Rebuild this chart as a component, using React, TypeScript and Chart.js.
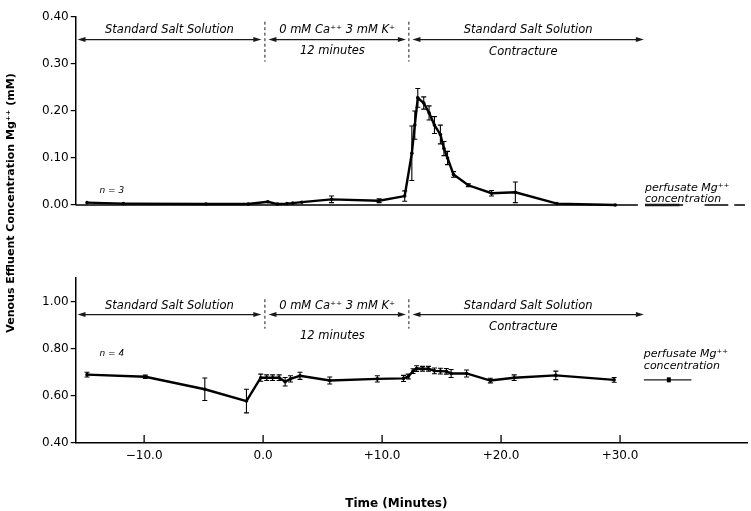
import React, { useEffect, useRef } from 'react';
import { Chart, registerables } from 'chart.js';

Chart.register(...registerables);

// ---------- data ----------
// Upper panel: Mg++ efflux, Ca-free contracture protocol (n = 3)
const topTime = [-14.8, -11.75, -4.8, -1.25, 0.4, 1.2, 2.0, 2.5, 3.25, 5.75, 9.75, 11.9, 12.5, 12.75, 13.0, 13.5, 13.95, 14.4, 14.9, 15.2, 15.5, 16.0, 17.25, 19.2, 21.2, 24.7, 29.6];
const topMg = [0.005, 0.003, 0.002, 0.002, 0.007, 0.002, 0.003, 0.004, 0.006, 0.012, 0.009, 0.019, 0.11, 0.17, 0.228, 0.217, 0.196, 0.17, 0.15, 0.12, 0.1, 0.065, 0.042, 0.025, 0.027, 0.003, 0.0];
const topErr = [0, 0, 0, 0, 0, 0, 0, 0, 0, 0.007, 0.004, 0.011, 0.058, 0.03, 0.02, 0.013, 0.015, 0.018, 0.02, 0.015, 0.014, 0.006, 0.003, 0.006, 0.022, 0, 0];

// Lower panel (n = 4)
const botTime = [-14.8, -9.9, -4.9, -1.4, -0.2, 0.3, 0.8, 1.35, 1.85, 2.3, 3.1, 5.6, 9.6, 11.8, 12.2, 12.6, 12.9, 13.4, 13.9, 14.4, 14.9, 15.4, 15.8, 17.1, 19.1, 21.1, 24.6, 29.5];
const botMg = [0.69, 0.681, 0.628, 0.578, 0.677, 0.677, 0.677, 0.677, 0.66, 0.672, 0.685, 0.665, 0.672, 0.674, 0.682, 0.705, 0.716, 0.715, 0.715, 0.706, 0.705, 0.704, 0.695, 0.695, 0.665, 0.677, 0.687, 0.668];
const botErr = [0.01, 0.007, 0.048, 0.05, 0.015, 0.012, 0.012, 0.012, 0.018, 0.013, 0.015, 0.015, 0.013, 0.013, 0.01, 0.01, 0.012, 0.01, 0.01, 0.012, 0.012, 0.012, 0.017, 0.015, 0.01, 0.012, 0.018, 0.01];

// Perfusate Mg++ concentration levels
const perfusateTop = 0.0;
const perfusateBot = 0.668;

// Axes
const xMin = -15.75;
const xMax = 40.67;
const xTickValues = [-10, 0, 10, 20, 30];
const xTickLabels = ['\u221210.0', '0.0', '+10.0', '+20.0', '+30.0'];
const topYTicks = [0, 0.1, 0.2, 0.3, 0.4];
const botYTicks = [0.4, 0.6, 0.8, 1.0];

// Protocol phases (minutes)
const phaseLabels = ['Standard Salt Solution', '0 mM Ca\u207A\u207A 3 mM K\u207A', 'Standard Salt Solution'];
const phaseSubLabels = ['', '12 minutes', 'Contracture'];
const phaseStarts = [-15.6, 0.45, 12.55];
const phaseEnds = [-0.15, 12.0, 32.0];
const phaseBoundaries = [0.15, 12.25];

// ---------- drawing helpers ----------
function drawArrow(ctx: CanvasRenderingContext2D, x1: number, x2: number, y: number) {
  const head = 8;
  ctx.lineWidth = 1.2;
  ctx.beginPath();
  ctx.moveTo(x1 + head - 1, y);
  ctx.lineTo(x2 - head + 1, y);
  ctx.stroke();
  ctx.beginPath();
  ctx.moveTo(x1, y);
  ctx.lineTo(x1 + head, y - 2.5);
  ctx.lineTo(x1 + head, y + 2.5);
  ctx.closePath();
  ctx.fill();
  ctx.beginPath();
  ctx.moveTo(x2, y);
  ctx.lineTo(x2 - head, y - 2.5);
  ctx.lineTo(x2 - head, y + 2.5);
  ctx.closePath();
  ctx.fill();
}

const annotationPlugin = {
  id: 'figureAnnotations',
  afterDatasetsDraw(chart: any) {
    const { ctx, scales, chartArea } = chart;
    const xs = scales.x;
    const yt = scales.yTop;
    const yb = scales.yBot;
    const X = (v: number) => xs.getPixelForValue(v);
    ctx.save();
    ctx.strokeStyle = '#000';
    ctx.fillStyle = '#000';

    // error bars
    const drawErr = (ts: number[], vs: number[], es: number[], sc: any) => {
      ctx.lineWidth = 1.1;
      ts.forEach((t, i) => {
        if (!es[i]) return;
        const px = X(t);
        const y1 = sc.getPixelForValue(vs[i] - es[i]);
        const y2 = sc.getPixelForValue(vs[i] + es[i]);
        ctx.beginPath();
        ctx.moveTo(px, y1);
        ctx.lineTo(px, y2);
        ctx.moveTo(px - 2.5, y1);
        ctx.lineTo(px + 2.5, y1);
        ctx.moveTo(px - 2.5, y2);
        ctx.lineTo(px + 2.5, y2);
        ctx.stroke();
      });
    };
    drawErr(topTime, topMg, topErr, yt);
    drawErr(botTime, botMg, botErr, yb);

    // inward tick marks on the time axis
    ctx.lineWidth = 1.3;
    xTickValues.forEach((v) => {
      const px = X(v);
      ctx.beginPath();
      ctx.moveTo(px, chartArea.bottom);
      ctx.lineTo(px, chartArea.bottom - 8);
      ctx.stroke();
    });

    // protocol phase annotations for each panel
    const panels = [
      { sc: yt, row1: 0.372, arrow: 0.352, row2: [0, 0.328, 0.326], dash: [0.39, 0.305] },
      { sc: yb, row1: 0.983, arrow: 0.945, row2: [0, 0.855, 0.893], dash: [1.01, 0.885] },
    ];
    panels.forEach((p) => {
      ctx.strokeStyle = '#1a1a1a';
      ctx.fillStyle = '#1a1a1a';
      const ay = p.sc.getPixelForValue(p.arrow);
      phaseStarts.forEach((s, i) => drawArrow(ctx, X(s), X(phaseEnds[i]), ay));
      ctx.setLineDash([3, 2.5]);
      ctx.lineWidth = 1;
      phaseBoundaries.forEach((b) => {
        ctx.beginPath();
        ctx.moveTo(X(b), p.sc.getPixelForValue(p.dash[0]));
        ctx.lineTo(X(b), p.sc.getPixelForValue(p.dash[1]));
        ctx.stroke();
      });
      ctx.setLineDash([]);
      ctx.fillStyle = '#000';
      ctx.font = 'italic 11.5px "DejaVu Sans"';
      ctx.textAlign = 'center';
      ctx.textBaseline = 'middle';
      phaseLabels.forEach((lab, i) => {
        const cx = (phaseStarts[i] + phaseEnds[i]) / 2;
        ctx.fillText(lab, X(cx), p.sc.getPixelForValue(p.row1));
        if (phaseSubLabels[i]) ctx.fillText(phaseSubLabels[i], X(cx - 0.4), p.sc.getPixelForValue(p.row2[i]));
      });
    });

    // n labels
    ctx.font = 'italic 9px "DejaVu Sans"';
    ctx.textAlign = 'left';
    ctx.fillText('n = 3', X(-13.75), yt.getPixelForValue(0.03));
    ctx.fillText('n = 4', X(-13.75), yb.getPixelForValue(0.777));

    // perfusate legends
    ctx.font = 'italic 11px "DejaVu Sans"';
    ctx.fillText('perfusate Mg\u207A\u207A', X(32.1), yt.getPixelForValue(0.035));
    ctx.fillText('concentration', X(32.1), yt.getPixelForValue(0.013));
    ctx.fillText('perfusate Mg\u207A\u207A', X(32.0), yb.getPixelForValue(0.775));
    ctx.fillText('concentration', X(32.0), yb.getPixelForValue(0.724));

    ctx.lineWidth = 2.6;
    ctx.beginPath();
    ctx.moveTo(X(32.1), yt.getPixelForValue(perfusateTop));
    ctx.lineTo(X(35.0), yt.getPixelForValue(perfusateTop));
    ctx.stroke();
    ctx.lineWidth = 1.3;
    const by = yb.getPixelForValue(perfusateBot);
    ctx.beginPath();
    ctx.moveTo(X(32.0), by);
    ctx.lineTo(X(36.0), by);
    ctx.stroke();
    ctx.fillRect(X(34.1) - 2, by - 2.5, 4, 5);

    // axis titles
    ctx.font = 'bold 12px "DejaVu Sans"';
    ctx.textAlign = 'center';
    ctx.textBaseline = 'middle';
    ctx.fillText('Time (Minutes)', X(11.2), chartArea.bottom + 61);
    ctx.save();
    ctx.translate(11, yt.bottom - 2);
    ctx.rotate(-Math.PI / 2);
    ctx.font = 'bold 11px "DejaVu Sans"';
    ctx.fillText('Venous Effluent Concentration Mg\u207A\u207A (mM)', 0, 0);
    ctx.restore();

    ctx.restore();
  },
};

const tickFont = { family: 'DejaVu Sans', size: 12 };

export default function App() {
  const canvasRef = useRef<HTMLCanvasElement | null>(null);

  useEffect(() => {
    document.body.style.margin = '0';
    const canvas = canvasRef.current;
    if (!canvas) return;
    const yAxisCommon = {
      type: 'linear',
      position: 'left',
      stack: 'panels',
      grid: { drawOnChartArea: false, tickLength: 5, color: '#000', lineWidth: 1.2 },
      border: { display: true, color: '#000', width: 1.5 },
      ticks: {
        color: '#000',
        font: tickFont,
        padding: 2,
        callback: (v: number) => Number(v).toFixed(2),
      },
    };
    const chart = new Chart(canvas, {
      type: 'line',
      data: {
        datasets: [
          {
            label: 'Mg++ upper',
            data: topTime.map((t, i) => ({ x: t, y: topMg[i] })),
            yAxisID: 'yTop',
            borderColor: '#000',
            backgroundColor: '#000',
            borderWidth: 2.4,
            pointRadius: 1.8,
            pointBorderWidth: 0,
            tension: 0,
            clip: 8,
          },
          {
            label: 'perfusate upper',
            data: [
              { x: xMin, y: perfusateTop },
              { x: 31.5, y: perfusateTop },
              { x: 31.8, y: null },
              { x: 32.1, y: perfusateTop },
              { x: 35.3, y: perfusateTop },
              { x: 36.2, y: null },
              { x: 37.1, y: perfusateTop },
              { x: 39.1, y: perfusateTop },
              { x: 39.3, y: null },
              { x: 39.6, y: perfusateTop },
              { x: 40.5, y: perfusateTop },
            ],
            yAxisID: 'yTop',
            borderColor: '#000',
            backgroundColor: '#000',
            borderWidth: 1.5,
            pointRadius: 0,
            spanGaps: false,
            clip: false,
          },
          {
            label: 'Mg++ lower',
            data: botTime.map((t, i) => ({ x: t, y: botMg[i] })),
            yAxisID: 'yBot',
            borderColor: '#000',
            backgroundColor: '#000',
            borderWidth: 2.4,
            pointRadius: 1.8,
            pointBorderWidth: 0,
            tension: 0,
            clip: 8,
          },
        ],
      },
      options: {
        responsive: false,
        animation: false,
        devicePixelRatio: 1,
        layout: { padding: { top: 17, left: 40, right: 0, bottom: 41.6 } },
        plugins: { legend: { display: false }, tooltip: { enabled: false }, title: { display: false } },
        scales: {
          x: {
            type: 'linear',
            min: xMin,
            max: xMax,
            afterBuildTicks: (s: any) => {
              s.ticks = xTickValues.map((v) => ({ value: v }));
            },
            ticks: {
              color: '#000',
              font: tickFont,
              padding: 6,
              maxRotation: 0,
              autoSkip: false,
              callback: (v: number) => {
                const i = xTickValues.indexOf(Number(v));
                return i >= 0 ? xTickLabels[i] : '';
              },
            },
            grid: { display: false, drawTicks: false },
            border: { display: true, color: '#000', width: 1.5 },
          },
          yBot: {
            ...yAxisCommon,
            stackWeight: 165,
            min: 0.4,
            max: 1.1,
            afterBuildTicks: (s: any) => {
              s.ticks = botYTicks.map((v) => ({ value: v }));
            },
          },
          yGap: {
            type: 'linear',
            position: 'left',
            stack: 'panels',
            stackWeight: 73,
            min: 0,
            max: 1,
            ticks: { display: false },
            grid: { display: false, drawTicks: false },
            border: { display: false },
          },
          yTop: {
            ...yAxisCommon,
            stackWeight: 188,
            min: 0,
            max: 0.4,
            afterBuildTicks: (s: any) => {
              s.ticks = topYTicks.map((v) => ({ value: v }));
            },
          },
        },
      } as any,
      plugins: [annotationPlugin],
    });
    return () => chart.destroy();
  }, []);

  return (
    <div style={{ position: 'fixed', left: 0, top: 0, width: 751, height: 511, background: '#fff' }}>
      <canvas ref={canvasRef} width={751} height={511} style={{ display: 'block' }} />
    </div>
  );
}
